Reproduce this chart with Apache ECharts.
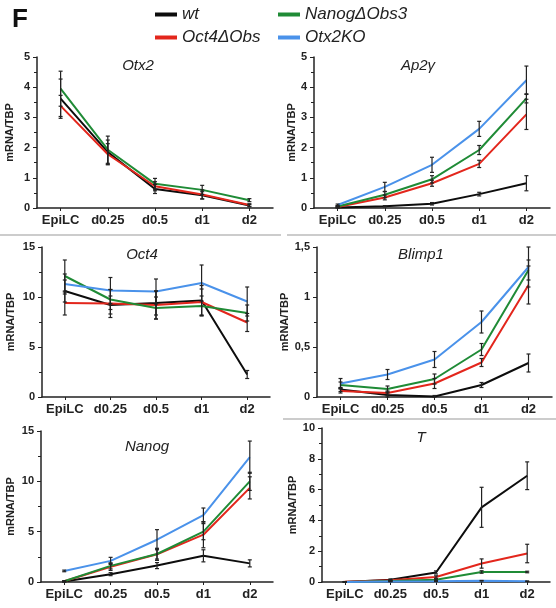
<!DOCTYPE html>
<html>
<head>
<meta charset="utf-8">
<script src="https://cdn.jsdelivr.net/npm/echarts@6/dist/echarts.min.js"></script>
<style>
html,body{margin:0;padding:0;background:#fff;}
#c{width:556px;height:608px;}
</style>
</head>
<body>
<div id="c"></div>
<script>
// ---- data ----
const categories = ['EpiLC', 'd0.25', 'd0.5', 'd1', 'd2'];
const genotypes = ['wt', 'Oct4ΔObs', 'NanogΔObs3', 'Otx2KO'];
const genes = ['Otx2', 'Ap2γ', 'Oct4', 'Blimp1', 'Nanog', 'T'];
const yMax = [5, 5, 15, 1.5, 15, 10];
const yStep = [1, 1, 5, 0.5, 5, 2];

// Otx2
const otx2Wt = [3.62, 1.85, 0.63, 0.42, 0.08];
const otx2WtErr = [0.65, 0.4, 0.15, 0.12, 0.04];
const otx2Oct4 = [3.38, 1.78, 0.72, 0.45, 0.1];
const otx2Oct4Err = [0.35, 0.35, 0.15, 0.15, 0.04];
const otx2Nanog = [3.95, 1.93, 0.8, 0.6, 0.26];
const otx2NanogErr = [0.58, 0.45, 0.18, 0.15, 0.05];

// Ap2gamma
const ap2Wt = [0.02, 0.06, 0.14, 0.46, 0.82];
const ap2WtErr = [0.02, 0.02, 0.04, 0.06, 0.25];
const ap2Oct4 = [0.03, 0.35, 0.82, 1.46, 3.1];
const ap2Oct4Err = [0.02, 0.08, 0.1, 0.12, 0.5];
const ap2Nanog = [0.05, 0.44, 0.95, 1.92, 3.63];
const ap2NanogErr = [0.03, 0.1, 0.12, 0.15, 0.15];
const ap2Otx2 = [0.1, 0.7, 1.43, 2.62, 4.23];
const ap2Otx2Err = [0.03, 0.15, 0.25, 0.25, 0.47];

// Oct4
const oct4Wt = [10.6, 9.2, 9.4, 9.65, 2.25];
const oct4WtErr = [1.1, 0.9, 1.2, 1.5, 0.4];
const oct4Oct4 = [9.4, 9.35, 9.2, 9.5, 7.45];
const oct4Oct4Err = [1.2, 1.4, 1.4, 1.3, 0.9];
const oct4Nanog = [12.1, 9.75, 8.9, 9.1, 8.4];
const oct4NanogErr = [1.6, 1.0, 1.1, 1.0, 0.8];
const oct4Otx2 = [11.3, 10.65, 10.55, 11.4, 9.55];
const oct4Otx2Err = [1.0, 1.3, 1.25, 1.8, 1.45];

// Blimp1
const blimpWt = [0.075, 0.02, 0.005, 0.12, 0.34];
const blimpWtErr = [0.02, 0.02, 0.01, 0.025, 0.09];
const blimpOct4 = [0.06, 0.04, 0.135, 0.345, 1.12];
const blimpOct4Err = [0.02, 0.02, 0.05, 0.04, 0.19];
const blimpNanog = [0.12, 0.08, 0.18, 0.475, 1.27];
const blimpNanogErr = [0.03, 0.03, 0.05, 0.06, 0.1];
const blimpOtx2 = [0.135, 0.225, 0.375, 0.75, 1.3];
const blimpOtx2Err = [0.05, 0.05, 0.08, 0.11, 0.2];

// Nanog
const nanogWt = [0.05, 0.78, 1.63, 2.6, 1.85];
const nanogWtErr = [0.05, 0.15, 0.3, 0.6, 0.35];
const nanogOct4 = [0.07, 1.5, 2.75, 4.7, 9.35];
const nanogOct4Err = [0.05, 0.35, 0.6, 1.3, 1.1];
const nanogNanog = [0.07, 1.6, 2.78, 5.0, 10.0];
const nanogNanogErr = [0.05, 0.3, 0.5, 0.8, 0.9];
const nanogOtx2 = [1.1, 2.1, 4.2, 6.65, 12.4];
const nanogOtx2Err = [0.08, 0.35, 1.0, 0.7, 1.6];

// T
const tWt = [0.0, 0.15, 0.62, 4.85, 6.9];
const tWtErr = [0.01, 0.05, 0.1, 1.3, 0.9];
const tOct4 = [0.02, 0.12, 0.32, 1.2, 1.85];
const tOct4Err = [0.01, 0.03, 0.08, 0.3, 0.6];
const tNanog = [0.0, 0.07, 0.15, 0.65, 0.65];
const tNanogErr = [0.01, 0.02, 0.04, 0.08, 0.05];
const tOtx2 = [0.0, 0.03, 0.05, 0.08, 0.05];
const tOtx2Err = [0.01, 0.01, 0.01, 0.02, 0.02];

// ---- layout / styles ----
const colors = {'wt': '#0d0d0d', 'Oct4ΔObs': '#e3261c', 'NanogΔObs3': '#1f8b36', 'Otx2KO': '#4a92ea'};
const FONT = '"Liberation Sans", Arial, Helvetica, sans-serif';

const panels = [
  {lines: [['wt', otx2Wt, otx2WtErr], ['Oct4ΔObs', otx2Oct4, otx2Oct4Err], ['NanogΔObs3', otx2Nanog, otx2NanogErr]]},
  {lines: [['wt', ap2Wt, ap2WtErr], ['Oct4ΔObs', ap2Oct4, ap2Oct4Err], ['NanogΔObs3', ap2Nanog, ap2NanogErr], ['Otx2KO', ap2Otx2, ap2Otx2Err]]},
  {lines: [['wt', oct4Wt, oct4WtErr], ['Oct4ΔObs', oct4Oct4, oct4Oct4Err], ['NanogΔObs3', oct4Nanog, oct4NanogErr], ['Otx2KO', oct4Otx2, oct4Otx2Err]]},
  {lines: [['wt', blimpWt, blimpWtErr], ['Oct4ΔObs', blimpOct4, blimpOct4Err], ['NanogΔObs3', blimpNanog, blimpNanogErr], ['Otx2KO', blimpOtx2, blimpOtx2Err]]},
  {lines: [['wt', nanogWt, nanogWtErr], ['Oct4ΔObs', nanogOct4, nanogOct4Err], ['NanogΔObs3', nanogNanog, nanogNanogErr], ['Otx2KO', nanogOtx2, nanogOtx2Err]]},
  {lines: [['wt', tWt, tWtErr], ['Oct4ΔObs', tOct4, tOct4Err], ['NanogΔObs3', tNanog, tNanogErr], ['Otx2KO', tOtx2, tOtx2Err]]}
];

const grids = [
  {left: 37, top: 57, width: 236, height: 151},
  {left: 314, top: 57, width: 236, height: 151},
  {left: 42, top: 247, width: 228, height: 150},
  {left: 317, top: 247, width: 235, height: 150},
  {left: 41, top: 431, width: 232, height: 151},
  {left: 322, top: 428, width: 228, height: 154}
];
const nameGaps = [22, 12, 26, 19, 25, 22];
const titlePos = [[138, 58], [418, 58], [142, 247], [421, 247], [147, 439], [421, 430]];

function errItem(params, api) {
  const x = api.value(0), y = api.value(1), e = api.value(2);
  const hi = api.coord([x, y + e]);
  const lo = api.coord([x, Math.max(0, y - e)]);
  const c = 2;
  const st = {stroke: '#222', lineWidth: 1.2};
  return {type: 'group', children: [
    {type: 'line', shape: {x1: hi[0], y1: hi[1], x2: lo[0], y2: lo[1]}, style: st},
    {type: 'line', shape: {x1: hi[0] - c, y1: hi[1], x2: hi[0] + c, y2: hi[1]}, style: st},
    {type: 'line', shape: {x1: lo[0] - c, y1: lo[1], x2: lo[0] + c, y2: lo[1]}, style: st}
  ]};
}

const xAxes = [], yAxes = [], series = [], titles = [];
panels.forEach((p, i) => {
  xAxes.push({
    type: 'category', gridIndex: i, data: categories, boundaryGap: true,
    axisLine: {lineStyle: {color: '#222', width: 1.5}},
    axisTick: {show: true, alignWithLabel: true, length: 3, lineStyle: {color: '#222'}},
    axisLabel: {fontFamily: FONT, fontWeight: 'bold', fontSize: 13, color: '#222', margin: 6, interval: 0}
  });
  yAxes.push({
    type: 'value', gridIndex: i, min: 0, max: yMax[i], interval: yStep[i],
    name: 'mRNA/TBP', nameLocation: 'middle', nameGap: nameGaps[i],
    nameTextStyle: {fontFamily: FONT, fontWeight: 'bold', fontSize: 11, color: '#222'},
    axisLine: {show: true, lineStyle: {color: '#222', width: 1.5}},
    axisTick: {show: true, length: 4, lineStyle: {color: '#222'}},
    minorTick: {show: true, splitNumber: 2, length: 3, lineStyle: {color: '#222'}},
    splitLine: {show: false},
    axisLabel: {fontFamily: FONT, fontWeight: 'bold', fontSize: 11, color: '#222', margin: 7,
      formatter: v => String(v).replace('.', ',')}
  });
  titles.push({
    text: genes[i], left: titlePos[i][0], top: titlePos[i][1], textAlign: 'center', padding: 0,
    textStyle: {fontFamily: FONT, fontStyle: 'italic', fontWeight: 'normal', fontSize: 15, color: '#222'}
  });
  p.lines.forEach(([name, vals, errs]) => {
    series.push({
      type: 'line', name: name, xAxisIndex: i, yAxisIndex: i, data: vals,
      showSymbol: false, symbol: 'none', color: colors[name],
      lineStyle: {width: 2, color: colors[name]}, z: 3
    });
  });
  p.lines.forEach(([name, vals, errs]) => {
    series.push({
      type: 'custom', xAxisIndex: i, yAxisIndex: i, renderItem: errItem,
      encode: {x: 0, y: 1}, z: 4,
      data: vals.map((v, k) => [k, v, errs[k]])
    });
  });
});

const legendBase = {icon: 'rect', itemWidth: 22, itemHeight: 4, padding: 0,
  textStyle: {fontFamily: FONT, fontStyle: 'italic', fontSize: 17, color: '#222'}};
const legends = [
  Object.assign({}, legendBase, {data: ['wt'], left: 155, top: 6}),
  Object.assign({}, legendBase, {data: ['NanogΔObs3'], left: 278, top: 6}),
  Object.assign({}, legendBase, {data: ['Oct4ΔObs'], left: 155, top: 29}),
  Object.assign({}, legendBase, {data: ['Otx2KO'], left: 278, top: 29})
];

const chart = echarts.init(document.getElementById('c'), null, {renderer: 'canvas'});
chart.setOption({
  animation: false,
  backgroundColor: '#fff',
  title: titles,
  legend: legends,
  grid: grids,
  xAxis: xAxes,
  yAxis: yAxes,
  series: series,
  graphic: [
    {type: 'text', left: 12, top: 7, style: {text: 'F', fontFamily: FONT, fontWeight: 'bold', fontSize: 26, fill: '#111'}},
    {type: 'line', shape: {x1: 0, y1: 235, x2: 281, y2: 235}, style: {stroke: '#bbb', lineWidth: 1.5}},
    {type: 'line', shape: {x1: 287, y1: 235, x2: 556, y2: 235}, style: {stroke: '#bbb', lineWidth: 1.5}},
    {type: 'line', shape: {x1: 283, y1: 419, x2: 556, y2: 419}, style: {stroke: '#bbb', lineWidth: 1.5}}
  ]
});
</script>
</body>
</html>
